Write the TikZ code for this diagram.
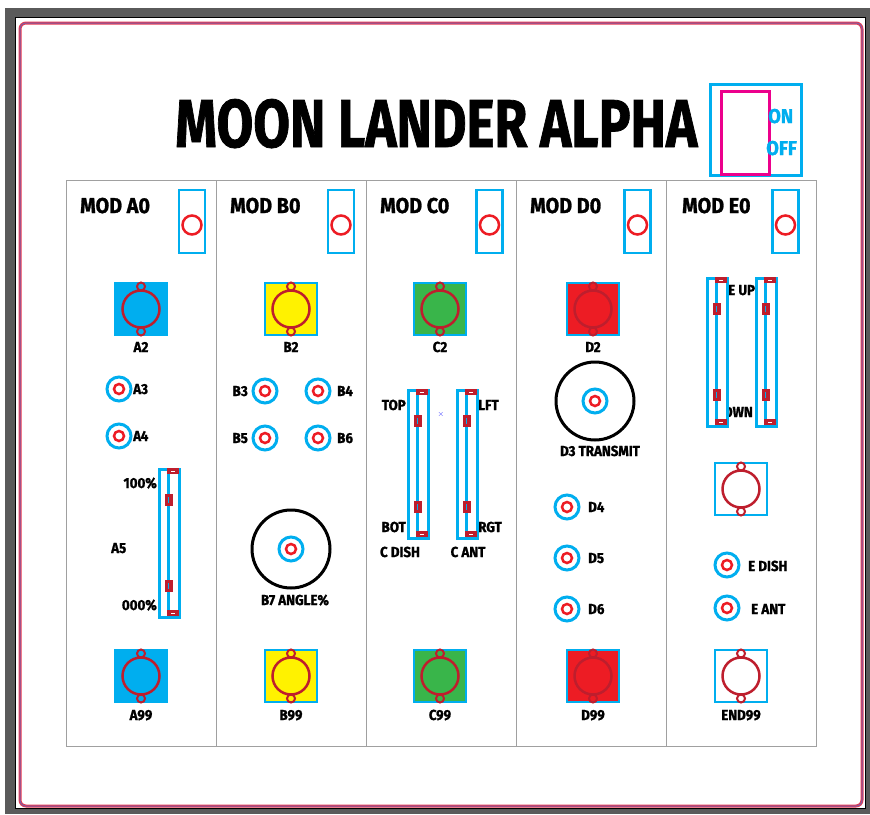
\documentclass[tikz,border=0pt]{standalone}
\usepackage{fontspec}
\usepackage{graphicx}
\setmainfont{Fira Sans}
\newfontfamily\lab[FakeStretch=0.92,FakeBold=1.2]{Fira Sans}
\definecolor{cyanc}{HTML}{00AEEF}
\definecolor{redc}{HTML}{ED1C24}
\definecolor{dred}{HTML}{BE1E2D}
\definecolor{yel}{HTML}{FFF200}
\definecolor{grn}{HTML}{39B54A}
\definecolor{pinkc}{HTML}{EC008C}
\definecolor{framegray}{HTML}{5A5A5A}
\definecolor{panelgray}{HTML}{A0A0A0}
\definecolor{bordred}{HTML}{E8384F}
\definecolor{bordpur}{HTML}{7B5EA7}
\tikzset{
  lbl/.style={inner sep=0, font=\lab\bfseries\fontsize{14.5}{16}\selectfont, text=black},
  modlbl/.style={inner sep=0, font=\lab\bfseries\fontsize{21.5}{24}\selectfont, text=black},
  onoff/.style={inner sep=0, font=\lab\bfseries\fontsize{20}{22}\selectfont, text=cyanc},
  ring/.style={circle, draw=cyanc, line width=3pt, fill=white, minimum size=24pt, inner sep=0},
  dot/.style={circle, draw=redc, line width=2.5pt, minimum size=10pt, inner sep=0},
  sq/.style={draw=cyanc, line width=2.5pt, minimum size=52pt, inner sep=0},
  bigring/.style={circle, draw=dred, line width=2.5pt, minimum size=37pt, inner sep=0},
  loopc/.style={circle, draw=dred, line width=2pt, minimum size=8pt, inner sep=0},
  knob/.style={circle, draw=black, line width=3pt, minimum size=78pt, inner sep=0},
  togbox/.style={draw=cyanc, line width=2.5pt, fill=white, minimum width=26pt, minimum height=63pt, inner sep=0},
  togdot/.style={circle, draw=redc, line width=2.5pt, minimum size=19pt, inner sep=0},
  sbox/.style={draw=cyanc, line width=2.5pt, fill=white, minimum width=20pt, minimum height=148pt, inner sep=0, anchor=north west}
}
% small button: name, x, y
\newcommand\smbtn[3]{%
  \node[ring] (#1) at (#2,#3) {};
  \node[dot] (#1dot) at (#2,#3) {};}
% big button: name, x, y, fill
\newcommand\bgbtn[4]{%
  \node[sq, fill=#4] (#1) at (#2,#3) {};
  \node[bigring] (#1ring) at (#2,#3) {};
  \node[loopc] (#1lt) at ($(#2,#3)+(0,-22.5)$) {};
  \node[loopc] (#1lb) at ($(#2,#3)+(0,22.5)$) {};}
% toggle: name, x
\newcommand\togl[2]{%
  \node[togbox] (#1) at (#2,221.5) {};
  \node[togdot] (#1dot) at (#2,225) {};}
% slider: name, x0, y0
\newcommand\sldr[3]{%
  \begin{scope}[shift={(#2,#3)}]
    \node[sbox] (#1) at (0,0) {};
    \draw[cyanc, line width=2.5pt] (10.5,4) -- (10.5,144);
    \fill[dred] (9,0) rectangle (21,6);
    \draw[white, line width=1pt] (13,3) -- (17,3);
    \fill[dred] (9,142) rectangle (21,148);
    \draw[white, line width=1pt] (13,145) -- (17,145);
    \fill[dred] (6.5,26) rectangle (14.5,38);
    \draw[cyanc, line width=1pt] (10.5,29) -- (10.5,35);
    \fill[dred] (6.5,112) rectangle (14.5,124);
    \draw[cyanc, line width=1pt] (10.5,115) -- (10.5,121);
  \end{scope}}
\usetikzlibrary{calc}
\begin{document}
\begin{tikzpicture}[x=1pt, y=-1pt]
\useasboundingbox (0,0) rectangle (870,814);
% frame
\fill[white] (0,0) rectangle (870,814);
\fill[framegray] (5,8) rectangle (870,814);
\fill[white, draw=black, line width=0.8pt] (15,17) rectangle (865,808);
\draw[bordred, line width=3pt, rounded corners=6pt] (20,23) rectangle (862,806);
\draw[bordpur, line width=1pt, rounded corners=6pt] (20,23) rectangle (862,806);
% title
\node[anchor=base west, inner sep=0] (title) at (175,147)
  {\resizebox{522pt}{48pt}{\lab\bfseries MOON LANDER ALPHA}};
% on/off switch
\node[draw=cyanc, line width=2.5pt, minimum width=91pt, minimum height=91pt, inner sep=0, anchor=north west] (sw) at (709,83) {};
\node[draw=pinkc, line width=2.5pt, minimum width=48pt, minimum height=83pt, inner sep=0, anchor=north west] (swk) at (720,90) {};
\node[onoff, anchor=base west] (on) at (768,123) {ON};
\node[onoff, anchor=base west] (off) at (766,155) {OFF};
% panel
\node[draw=panelgray, line width=1pt, minimum width=750pt, minimum height=566pt, inner sep=0, anchor=north west] (panel) at (66,180) {};
\foreach \i/\xx in {1/216,2/366,3/516,4/666} {
  \coordinate (dt\i) at (\xx,180);
  \coordinate (db\i) at (\xx,746);
  \draw[panelgray, line width=1pt] (dt\i) -- (db\i);
}
% module headers
\node[modlbl, anchor=base west] (mA) at (80,213) {MOD A0};
\node[modlbl, anchor=base west] (mB) at (230,213) {MOD B0};
\node[modlbl, anchor=base west] (mC) at (380,213) {MOD C0};
\node[modlbl, anchor=base west] (mD) at (530,213) {MOD D0};
\node[modlbl, anchor=base west] (mE) at (682,213) {MOD E0};
\togl{tA}{192}
\togl{tB}{341}
\togl{tC}{489.5}
\togl{tD}{637.5}
\togl{tE}{785.5}
% top big buttons
\bgbtn{A2}{141}{309}{cyanc}
\bgbtn{B2}{291}{309}{yel}
\bgbtn{C2}{440}{309}{grn}
\bgbtn{D2}{593}{309}{redc}
\node[lbl, anchor=base] (lA2) at (141,352) {A2};
\node[lbl, anchor=base] (lB2) at (291,352) {B2};
\node[lbl, anchor=base] (lC2) at (440,352) {C2};
\node[lbl, anchor=base] (lD2) at (593,352) {D2};
% bottom big buttons
\bgbtn{A99}{141}{676}{cyanc}
\bgbtn{B99}{291}{676}{yel}
\bgbtn{C99}{440}{676}{grn}
\bgbtn{D99}{593}{676}{redc}
\bgbtn{E99}{741}{676}{white}
\node[lbl, anchor=base] (lA99) at (141,720) {A99};
\node[lbl, anchor=base] (lB99) at (291,720) {B99};
\node[lbl, anchor=base] (lC99) at (440,720) {C99};
\node[lbl, anchor=base] (lD99) at (593,720) {D99};
\node[lbl, anchor=base] (lE99) at (741,720) {END99};
% module A
\smbtn{A3}{119}{389}
\smbtn{A4}{119}{436}
\node[lbl, anchor=base west] (lA3) at (133,394) {A3};
\node[lbl, anchor=base west] (lA4) at (133,441) {A4};
\node[lbl, anchor=base east] (l100) at (157,488) {100\%};
\node[lbl, anchor=base west] (lA5) at (111,553) {A5};
\node[lbl, anchor=base east] (l000) at (157,610) {000\%};
\sldr{A5}{158}{468}
% module B
\smbtn{B3}{265}{391}
\smbtn{B4}{318}{391}
\smbtn{B5}{265}{438}
\smbtn{B6}{318}{438}
\node[lbl, anchor=base east] (lB3) at (248,396) {B3};
\node[lbl, anchor=base west] (lB4) at (337,396) {B4};
\node[lbl, anchor=base east] (lB5) at (248,443) {B5};
\node[lbl, anchor=base west] (lB6) at (337,443) {B6};
\node[knob] (B7) at (291,549) {};
\smbtn{B7b}{291}{549}
\node[lbl, anchor=base] (lB7) at (295,605) {B7 ANGLE\%};
% module C
\node[lbl, anchor=base east] (lTOP) at (406,410) {TOP};
\node[lbl, anchor=base east] (lBOT) at (406,532) {BOT};
\node[lbl, anchor=base west] (lLFT) at (478,410) {LFT};
\node[lbl, anchor=base west] (lRGT) at (478,532) {RGT};
\sldr{Cdish}{407}{389}
\sldr{Cant}{456}{389}
\node[lbl, anchor=base] (lCD) at (400,557) {C DISH};
\node[lbl, anchor=base] (lCA) at (468,557) {C ANT};
\node[inner sep=0, text=blue!80, font=\fontsize{8}{8}\selectfont] (xmark) at (441,414) {$\times$};
% module D
\node[knob] (D3) at (595,401) {};
\smbtn{D3b}{595}{401}
\node[lbl, anchor=base] (lD3) at (600,456) {D3 TRANSMIT};
\smbtn{D4}{567}{507}
\smbtn{D5}{567}{558}
\smbtn{D6}{567}{609}
\node[lbl, anchor=base west] (lD4) at (588,512) {D4};
\node[lbl, anchor=base west] (lD5) at (588,563) {D5};
\node[lbl, anchor=base west] (lD6) at (588,614) {D6};
% module E
\node[lbl, anchor=base west] (lEUP) at (728,295) {E UP};
\node[lbl, anchor=base east] (lEDN) at (753,417) {DOWN};
\sldr{Eup}{706}{277}
\sldr{Edn}{755}{277}
\bgbtn{E1}{741}{489}{white}
\smbtn{Edish}{727}{565}
\smbtn{Eant}{727}{608}
\node[lbl, anchor=base west] (lEdish) at (748,571) {E DISH};
\node[lbl, anchor=base west] (lEant) at (751,614) {E ANT};
\end{tikzpicture}
\end{document}
